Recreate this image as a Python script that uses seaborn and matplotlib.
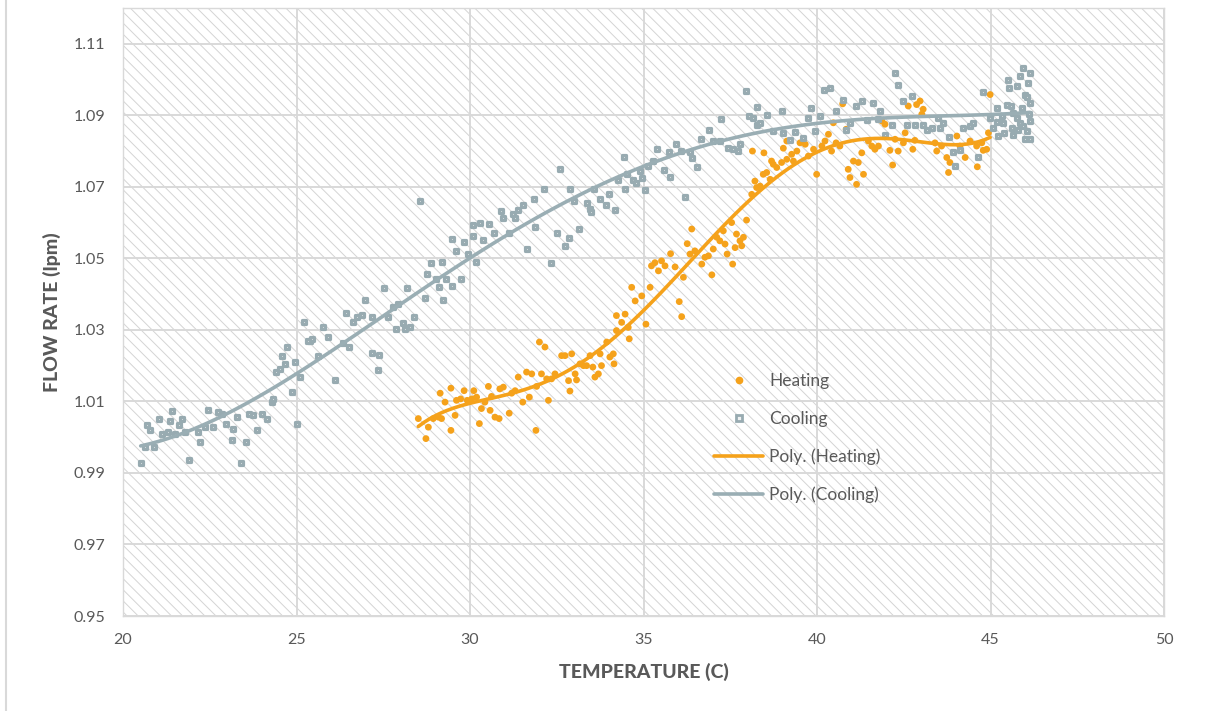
import numpy as np
import pandas as pd
import matplotlib
matplotlib.use("Agg")
import matplotlib.pyplot as plt
import seaborn as sns
from matplotlib.patches import Rectangle
from matplotlib.lines import Line2D

sns.set_theme(style="white")
plt.rcParams['font.family'] = ['Lato', 'DejaVu Sans']
plt.rcParams['hatch.linewidth'] = 0.7
plt.rcParams['hatch.color'] = '#d4d4d4'

# (temperature C, flow rate lpm)
heating_points = [
    (28.51, 1.0052), (28.73, 0.9996), (28.80, 1.0028), (28.94, 1.0052), (29.09, 1.0056),
    (29.18, 1.0052), (29.14, 1.0123), (29.28, 1.0098), (29.45, 1.0019), (29.45, 1.0137),
    (29.57, 1.0061), (29.61, 1.0103), (29.73, 1.0107), (29.83, 1.0130), (29.92, 1.0103),
    (30.05, 1.0107), (30.11, 1.0130), (30.19, 1.0112), (30.27, 1.0038), (30.33, 1.0080),
    (30.43, 1.0098), (30.53, 1.0142), (30.58, 1.0075), (30.62, 1.0114), (30.72, 1.0056),
    (30.84, 1.0052), (30.86, 1.0135), (30.96, 1.0140), (31.13, 1.0067), (31.20, 1.0123),
    (31.30, 1.0130), (31.39, 1.0168), (31.52, 1.0098), (31.63, 1.0182), (31.71, 1.0112),
    (31.78, 1.0177), (31.90, 1.0019), (31.92, 1.0142), (32.00, 1.0266), (32.06, 1.0177),
    (32.16, 1.0252), (32.21, 1.0163), (32.26, 1.0103), (32.35, 1.0163), (32.45, 1.0177),
    (32.64, 1.0228), (32.74, 1.0228), (32.84, 1.0158), (32.88, 1.0129), (32.93, 1.0233),
    (33.03, 1.0177), (33.07, 1.0160), (33.17, 1.0205), (33.27, 1.0200), (33.36, 1.0200),
    (33.46, 1.0228), (33.54, 1.0196), (33.60, 1.0168), (33.70, 1.0177), (33.79, 1.0200),
    (33.75, 1.0233), (33.94, 1.0266), (34.03, 1.0224), (34.13, 1.0233), (34.15, 1.0205),
    (34.22, 1.0298), (34.37, 1.0321), (34.56, 1.0307), (34.59, 1.0275), (34.22, 1.0340),
    (34.47, 1.0344), (34.66, 1.0419), (34.76, 1.0381), (34.95, 1.0395), (35.07, 1.0316),
    (35.19, 1.0419), (35.23, 1.0479), (35.33, 1.0488), (35.43, 1.0465), (35.52, 1.0493),
    (35.62, 1.0479), (35.78, 1.0513), (35.91, 1.0476), (36.03, 1.0379), (36.10, 1.0337),
    (36.15, 1.0447), (36.26, 1.0541), (36.34, 1.0512), (36.39, 1.0582), (36.48, 1.0521),
    (36.68, 1.0484), (36.77, 1.0503), (36.87, 1.0507), (36.97, 1.0454), (37.01, 1.0526),
    (37.11, 1.0559), (37.20, 1.0549), (37.30, 1.0577), (37.35, 1.0540), (37.41, 1.0512),
    (37.54, 1.0600), (37.57, 1.0484), (37.64, 1.0530), (37.68, 1.0568), (37.78, 1.0549),
    (37.88, 1.0559), (37.97, 1.0607), (37.83, 1.0535), (38.12, 1.0679), (38.21, 1.0716),
    (38.26, 1.0698), (38.36, 1.0702), (38.45, 1.0735), (38.55, 1.0740), (38.14, 1.0800),
    (38.47, 1.0795), (38.65, 1.0721), (38.69, 1.0772), (38.74, 1.0763), (38.84, 1.0754),
    (38.98, 1.0768), (39.13, 1.0777), (39.27, 1.0791), (39.03, 1.0808), (39.13, 1.0828),
    (39.32, 1.0772), (39.42, 1.0800), (39.51, 1.0823), (39.66, 1.0819), (39.75, 1.0786),
    (39.90, 1.0805), (39.99, 1.0735), (40.14, 1.0814), (40.23, 1.0828), (40.33, 1.0847),
    (40.42, 1.0800), (40.47, 1.0879), (40.55, 1.0823), (40.66, 1.0814), (40.74, 1.0932),
    (40.84, 1.0861), (40.90, 1.0749), (40.95, 1.0726), (41.05, 1.0772), (41.14, 1.0707),
    (41.19, 1.0768), (41.29, 1.0795), (41.34, 1.0735), (41.48, 1.0828), (41.58, 1.0814),
    (41.67, 1.0805), (41.77, 1.0814), (41.87, 1.0884), (41.96, 1.0875), (42.10, 1.0802),
    (42.18, 1.0761), (42.25, 1.0833), (42.34, 1.0800), (42.49, 1.0823), (42.54, 1.0851),
    (42.63, 1.0926), (42.76, 1.0805), (42.82, 1.0830), (42.87, 1.0930), (42.97, 1.0940),
    (43.02, 1.0903), (43.06, 1.0917), (43.40, 1.0823), (43.45, 1.0800), (43.59, 1.0814),
    (43.74, 1.0782), (43.79, 1.0740), (43.83, 1.0768), (44.03, 1.0842), (44.12, 1.0814),
    (44.27, 1.0782), (44.41, 1.0828), (44.60, 1.0814), (44.62, 1.0756), (44.75, 1.0823),
    (44.79, 1.0802), (44.89, 1.0805), (44.94, 1.0851), (44.99, 1.0958),
]

cooling_points = [
    (20.51, 0.9928), (20.68, 1.0033), (20.78, 1.0019), (20.63, 0.9972), (20.89, 0.9972),
    (21.05, 1.0052), (21.11, 1.0008), (21.35, 1.0045), (21.40, 1.0072), (21.31, 1.0014),
    (21.50, 1.0010), (21.62, 1.0033), (21.69, 1.0052), (21.79, 1.0014), (21.91, 0.9935),
    (22.17, 1.0014), (22.22, 0.9986), (22.36, 1.0029), (22.46, 1.0077), (22.58, 1.0029),
    (22.75, 1.0070), (22.84, 1.0066), (22.97, 1.0038), (23.13, 0.9991), (23.18, 1.0024),
    (23.28, 1.0056), (23.39, 0.9928), (23.54, 0.9986), (23.64, 1.0066), (23.75, 1.0061),
    (23.85, 1.0021), (24.00, 1.0066), (24.14, 1.0052), (24.28, 1.0098), (24.33, 1.0107),
    (24.88, 1.0126), (25.02, 1.0036), (24.40, 1.0181), (24.52, 1.0191), (24.57, 1.0228),
    (24.67, 1.0205), (24.72, 1.0253), (24.96, 1.0209), (25.10, 1.0168), (25.22, 1.0323),
    (25.39, 1.0270), (25.63, 1.0228), (25.75, 1.0309), (25.92, 1.0279), (26.11, 1.0160),
    (25.34, 1.0268), (25.44, 1.0274), (26.35, 1.0262), (26.52, 1.0253), (26.43, 1.0346),
    (26.62, 1.0321), (26.73, 1.0337), (26.88, 1.0342), (26.97, 1.0384), (27.17, 1.0335),
    (27.17, 1.0234), (27.39, 1.0230), (27.36, 1.0188), (27.53, 1.0417), (27.63, 1.0337),
    (27.79, 1.0363), (27.93, 1.0372), (27.87, 1.0302), (28.08, 1.0318), (28.13, 1.0302),
    (28.27, 1.0307), (28.40, 1.0335), (28.19, 1.0417), (28.56, 1.0659), (28.70, 1.0388),
    (28.75, 1.0457), (28.89, 1.0486), (29.02, 1.0442), (29.11, 1.0421), (29.18, 1.0491),
    (29.21, 1.0383), (29.31, 1.0442), (29.47, 1.0423), (29.47, 1.0554), (29.61, 1.0521),
    (29.73, 1.0442), (29.83, 1.0545), (29.95, 1.0513), (30.10, 1.0563), (30.08, 1.0594),
    (30.17, 1.0491), (30.29, 1.0600), (30.38, 1.0551), (30.56, 1.0596), (30.69, 1.0570),
    (30.88, 1.0633), (30.94, 1.0614), (31.11, 1.0570), (31.23, 1.0624), (31.39, 1.0635),
    (31.52, 1.0649), (31.65, 1.0526), (31.30, 1.0614), (31.84, 1.0665), (31.87, 1.0587),
    (32.13, 1.0694), (32.33, 1.0486), (32.50, 1.0570), (32.59, 1.0749), (32.74, 1.0535),
    (32.86, 1.0558), (32.88, 1.0694), (32.99, 1.0659), (33.15, 1.0582), (33.36, 1.0656),
    (33.46, 1.0638), (33.50, 1.0629), (33.57, 1.0694), (33.76, 1.0665), (33.92, 1.0649),
    (34.01, 1.0679), (34.18, 1.0635), (34.27, 1.0719), (34.44, 1.0783), (34.47, 1.0694),
    (34.53, 1.0737), (34.69, 1.0719), (34.78, 1.0710), (34.90, 1.0745), (34.95, 1.0725),
    (35.04, 1.0691), (35.14, 1.0758), (35.28, 1.0772), (35.40, 1.0807), (35.59, 1.0746),
    (35.76, 1.0727), (35.74, 1.0798), (35.95, 1.0820), (36.07, 1.0800), (36.21, 1.0671),
    (36.34, 1.0796), (36.41, 1.0780), (36.53, 1.0755), (36.67, 1.0833), (36.89, 1.0860),
    (37.01, 1.0828), (37.20, 1.0828), (37.22, 1.0891), (37.44, 1.0809), (37.59, 1.0805),
    (37.73, 1.0800), (37.78, 1.0819), (37.95, 1.0969), (38.04, 1.0898), (38.26, 1.0923),
    (38.26, 1.0874), (38.16, 1.0893), (38.36, 1.0879), (38.55, 1.0902), (38.74, 1.0856),
    (38.98, 1.0911), (39.03, 1.0851), (39.22, 1.0830), (39.37, 1.0854), (39.59, 1.0836),
    (39.75, 1.0893), (39.84, 1.0921), (39.94, 1.0856), (40.09, 1.0898), (40.20, 1.0972),
    (40.37, 1.0975), (40.55, 1.0911), (40.74, 1.0944), (40.85, 1.0860), (40.95, 1.0879),
    (41.12, 1.0925), (41.29, 1.0941), (41.43, 1.0888), (41.62, 1.0935), (41.77, 1.0891),
    (41.82, 1.0911), (41.96, 1.0846), (42.15, 1.0874), (42.25, 1.1018), (42.34, 1.0984),
    (42.49, 1.0939), (42.58, 1.0874), (42.73, 1.0953), (42.82, 1.0874), (43.06, 1.0874),
    (43.16, 1.0860), (43.30, 1.0865), (43.50, 1.0893), (43.54, 1.0865), (43.64, 1.0879),
    (43.79, 1.0839), (43.93, 1.0796), (44.12, 1.0802), (43.98, 1.0758), (44.22, 1.0865),
    (44.41, 1.0870), (44.49, 1.0879), (44.65, 1.0784), (44.79, 1.0965), (44.99, 1.0893),
    (45.08, 1.0865), (45.18, 1.0921), (45.23, 1.0842), (45.37, 1.0879), (45.47, 1.0930),
    (45.51, 1.1000), (45.54, 1.0977), (45.61, 1.0865), (45.66, 1.0907), (45.75, 1.0981),
    (45.75, 1.0893), (45.85, 1.1009), (45.90, 1.0921), (45.94, 1.1033), (46.00, 1.0958),
    (46.04, 1.0856), (46.09, 1.0991), (46.14, 1.1018), (46.14, 1.0935), (46.14, 1.0833),
    (46.00, 1.0833), (46.14, 1.0884), (45.85, 1.0879), (45.66, 1.0846), (45.32, 1.0898),
    (45.20, 1.0880), (45.40, 1.0850), (45.80, 1.0860), (46.10, 1.0905), (45.95, 1.0870),
    (45.60, 1.0925), (46.05, 1.0950),
]

x_ticks = [20, 25, 30, 35, 40, 45, 50]
y_ticks = [0.95, 0.97, 0.99, 1.01, 1.03, 1.05, 1.07, 1.09, 1.11]
series_names = ["Heating", "Cooling"]
trend_names = ["Poly. (Heating)", "Poly. (Cooling)"]
x_title = "TEMPERATURE (C)"
y_title = "FLOW RATE (lpm)"

heat = pd.DataFrame(heating_points, columns=["temp", "flow"])
cool = pd.DataFrame(cooling_points, columns=["temp", "flow"])

ORANGE = "#f5a21b"
GRAY_EDGE = "#98abb1"
GRAY_FACE = "#eef1f2"
GRAY_LINE = "#9aaeb4"
TXT = "#595959"

fig = plt.figure(figsize=(12.27, 7.11), dpi=100)
ax = fig.add_axes([123 / 1227, 1 - 616 / 711, 1041 / 1227, 608 / 711])

ax.add_patch(Rectangle((0, 0), 1, 1, transform=ax.transAxes, facecolor="white",
                       edgecolor="#d4d4d4", hatch="\\\\\\", lw=0, zorder=0))
ax.set_axisbelow(True)
ax.grid(True, color="#d9d9d9", lw=1.4)

sns.scatterplot(data=heat, x="temp", y="flow", marker="o", s=24, color=ORANGE,
                edgecolor="none", ax=ax, zorder=3, legend=False)
sns.scatterplot(data=cool, x="temp", y="flow", marker="s", s=12, color=GRAY_FACE,
                edgecolor=GRAY_EDGE, linewidth=2.3, ax=ax, zorder=4, legend=False)
sns.regplot(data=cool, x="temp", y="flow", order=4, ci=None, scatter=False,
            line_kws=dict(color=GRAY_LINE, lw=2.6, zorder=5), ax=ax)
sns.regplot(data=heat, x="temp", y="flow", order=5, ci=None, scatter=False,
            line_kws=dict(color=ORANGE, lw=2.6, zorder=6), ax=ax)

ax.set_xlim(20, 50)
ax.set_ylim(0.95, 1.12)
ax.set_xticks(x_ticks)
ax.set_xticklabels([str(t) for t in x_ticks])
ax.set_yticks(y_ticks)
ax.set_yticklabels([f"{t:.2f}" for t in y_ticks])
ax.tick_params(axis="both", length=0, labelsize=11.5, labelcolor=TXT)
ax.tick_params(axis="y", pad=13)
ax.tick_params(axis="x", pad=12)
for sp in ax.spines.values():
    sp.set_color("#d9d9d9")
    sp.set_linewidth(1.0)

ax.set_xlabel(x_title, fontsize=14, fontweight="black", color=TXT, labelpad=12)
ax.set_ylabel(y_title, fontsize=14, fontweight="black", color=TXT, labelpad=9)

handles = [
    Line2D([], [], marker="o", ls="", color=ORANGE, markersize=4.5),
    Line2D([], [], marker="s", ls="", markerfacecolor=GRAY_FACE, markeredgecolor=GRAY_EDGE,
           markeredgewidth=2.0, markersize=4),
    Line2D([], [], color=ORANGE, lw=2.6),
    Line2D([], [], color=GRAY_LINE, lw=2.6),
]
leg = ax.legend(handles, series_names + trend_names, loc="upper left",
                bbox_to_anchor=(0.553, 0.425), frameon=False, fontsize=12.5,
                labelspacing=1.25, handlelength=2.8, handletextpad=0.35,
                labelcolor=TXT)

fig.add_artist(Line2D([6 / 1227, 6 / 1227], [0, 1], transform=fig.transFigure,
                      color="#d9d9d9", lw=1.5))

fig.savefig("out.png", dpi=100, facecolor="white")
